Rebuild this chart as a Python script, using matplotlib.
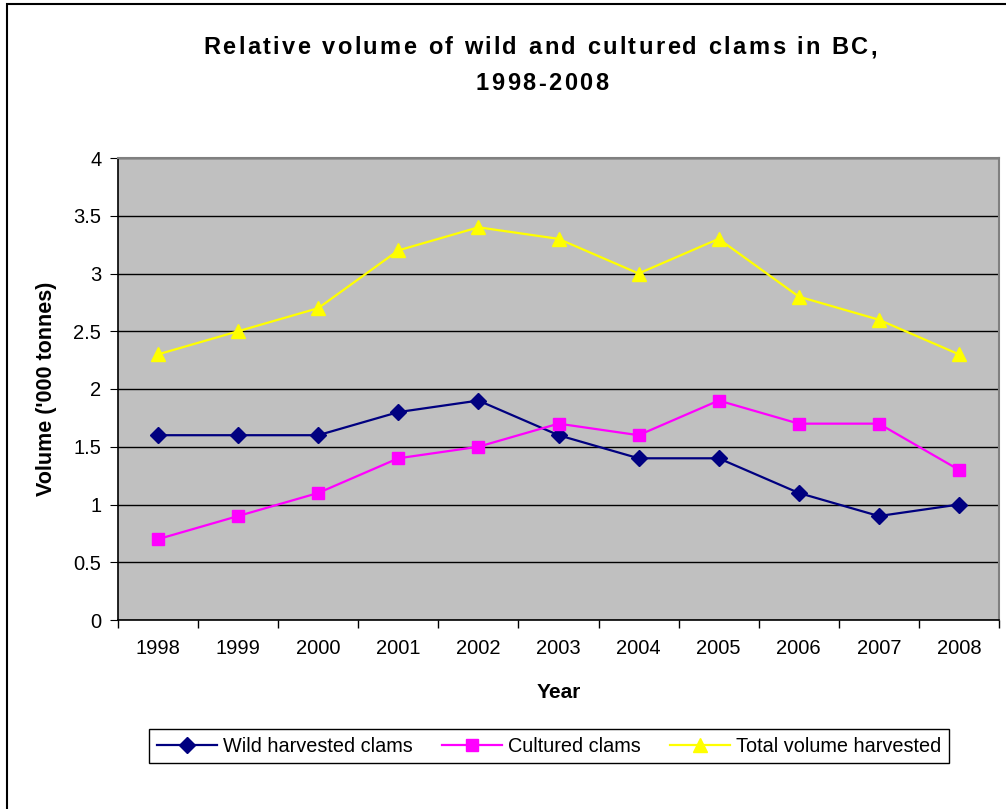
import matplotlib
matplotlib.use("Agg")
import matplotlib.pyplot as plt
import matplotlib.patches as mpatches
from matplotlib.font_manager import FontProperties
import numpy as np

years = ["1998", "1999", "2000", "2001", "2002", "2003", "2004", "2005", "2006", "2007", "2008"]
wild = [1.6, 1.6, 1.6, 1.8, 1.9, 1.6, 1.4, 1.4, 1.1, 0.9, 1.0]
cultured = [0.7, 0.9, 1.1, 1.4, 1.5, 1.7, 1.6, 1.9, 1.7, 1.7, 1.3]
total = [2.3, 2.5, 2.7, 3.2, 3.4, 3.3, 3.0, 3.3, 2.8, 2.6, 2.3]
title_lines = ['Relative volume of wild and cultured clams in BC,', '1998-2008']

plt.rcParams['font.family'] = ['Liberation Sans', 'DejaVu Sans']

W, H = 1006, 809
fig = plt.figure(figsize=(W / 100, H / 100), dpi=100)
ax = fig.add_axes([118/W, 1 - 620/H, 881/W, 462/H])
ax.set_facecolor('#C0C0C0')

# outer chart border (cropped on right and bottom)
fig.patches.append(mpatches.Rectangle((7/W, -0.1), 1.2, 1 - 4/H + 0.1,
                                      transform=fig.transFigure, fill=False,
                                      edgecolor='black', linewidth=1.5))

x = np.arange(len(years))
ax.plot(x, wild, color='#000080', marker='D', markersize=8, linewidth=1.6,
        label='Wild harvested clams', zorder=3)
ax.plot(x, cultured, color='#FF00FF', marker='s', markersize=8, linewidth=1.6,
        label='Cultured clams', zorder=3)
ax.plot(x, total, color='#FFFF00', marker='^', markersize=10, linewidth=1.6,
        label='Total volume harvested', zorder=3)

ax.set_xlim(-0.5, len(years) - 0.5)
ax.set_ylim(0, 4)
ax.set_yticks(np.arange(0, 4.01, 0.5))
ax.set_yticklabels(['0', '0.5', '1', '1.5', '2', '2.5', '3', '3.5', '4'])
ax.yaxis.grid(True, color='black', linewidth=1)
ax.set_axisbelow(True)

ax.set_xticks(x)
ax.set_xticklabels(years)
ax.set_xticks(np.arange(-0.5, len(years), 1), minor=True)
ax.tick_params(axis='x', which='major', length=0, pad=14, labelsize=14.5)
ax.tick_params(axis='x', which='minor', length=6, direction='out', width=1)
ax.tick_params(axis='y', length=6, direction='out', labelsize=14.5, pad=6)

for s in ['top', 'right']:
    ax.spines[s].set_color('#808080')
    ax.spines[s].set_linewidth(1.5)
for s in ['left', 'bottom']:
    ax.spines[s].set_color('black')
    ax.spines[s].set_linewidth(1.2)

ax.set_xlabel('Year', fontsize=15, fontweight='bold', labelpad=18)
ax.set_ylabel("Volume ('000 tonnes)", fontsize=15.5, fontweight='bold', labelpad=12)


# title drawn char by char to mimic the wide letter spacing of the original
def tracked_text(s, cx, cy, prop, tracking):
    renderer = fig.canvas.get_renderer()
    widths = []
    for ch in s:
        if ch == ' ':
            w = (renderer.get_text_width_height_descent('a a', prop, ismath=False)[0]
                 - renderer.get_text_width_height_descent('aa', prop, ismath=False)[0])
        else:
            w = renderer.get_text_width_height_descent(ch, prop, ismath=False)[0]
        widths.append(w)
    total_w = sum(widths) + tracking * (len(s) - 1)
    px = cx - total_w / 2
    for ch, w in zip(s, widths):
        fig.text(px / W, 1 - cy / H, ch, fontproperties=prop, ha='left', va='center')
        px += w + tracking


title_prop = FontProperties(family='Liberation Sans', weight='bold', size=17)
tracked_text(title_lines[0], 540, 48, title_prop, 2.4)
tracked_text(title_lines[1], 542, 84, title_prop, 2.4)

leg = fig.legend(loc='center', bbox_to_anchor=(549/W, 1 - 746/H), ncol=3,
                 fontsize=14.3, frameon=True, fancybox=False, edgecolor='black',
                 framealpha=1, handlelength=3, columnspacing=1.5, borderpad=0.4,
                 handletextpad=0.3)
leg.get_frame().set_linewidth(1)

plt.savefig("out.png", dpi=100)
